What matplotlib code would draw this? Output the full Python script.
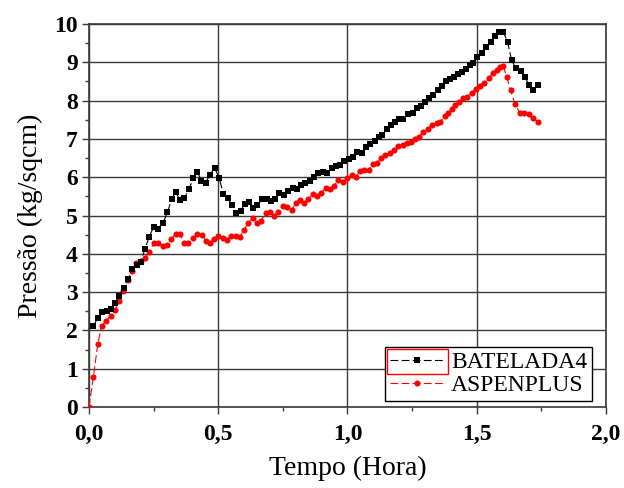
import matplotlib
matplotlib.use("Agg")
import matplotlib.pyplot as plt
from matplotlib.ticker import MultipleLocator, FuncFormatter
from matplotlib.patches import Rectangle

# BATELADA4 (pontos pretos)
tempo_bat = [0.017, 0.034, 0.052, 0.068, 0.084, 0.100, 0.117, 0.135, 0.150, 0.168,
             0.184, 0.200, 0.217, 0.233, 0.251, 0.268, 0.287, 0.303, 0.320, 0.335,
             0.352, 0.369, 0.386, 0.404, 0.419, 0.435, 0.451, 0.468, 0.486, 0.504,
             0.520, 0.537, 0.553, 0.569, 0.587, 0.602, 0.620, 0.636, 0.652, 0.669,
             0.687, 0.703, 0.720, 0.736, 0.754, 0.771, 0.788, 0.803, 0.820, 0.837,
             0.855, 0.870, 0.887, 0.904, 0.920, 0.939, 0.955, 0.971, 0.988, 1.005,
             1.020, 1.038, 1.055, 1.072, 1.087, 1.105, 1.122, 1.135, 1.152, 1.168,
             1.185, 1.200, 1.216, 1.235, 1.252, 1.268, 1.284, 1.300, 1.317, 1.332,
             1.349, 1.367, 1.381, 1.397, 1.413, 1.429, 1.444, 1.457, 1.474, 1.487,
             1.502, 1.519, 1.536, 1.554, 1.572, 1.587, 1.603, 1.620, 1.635, 1.652,
             1.670, 1.687, 1.703, 1.719, 1.736]
pressao_bat = [2.11, 2.33, 2.47, 2.51, 2.55, 2.71, 2.91, 3.12, 3.34, 3.61,
               3.71, 3.79, 4.13, 4.45, 4.71, 4.66, 4.81, 5.08, 5.42, 5.62,
               5.40, 5.45, 5.68, 5.97, 6.14, 5.91, 5.86, 6.06, 6.25, 5.97,
               5.56, 5.45, 5.27, 5.06, 5.13, 5.30, 5.36, 5.19, 5.27, 5.42,
               5.44, 5.37, 5.43, 5.60, 5.54, 5.64, 5.73, 5.69, 5.80, 5.84,
               5.91, 6.01, 6.10, 6.14, 6.10, 6.23, 6.30, 6.32, 6.43, 6.48,
               6.54, 6.67, 6.62, 6.80, 6.88, 6.95, 7.06, 7.09, 7.27, 7.36,
               7.43, 7.52, 7.53, 7.65, 7.68, 7.80, 7.86, 7.97, 8.06, 8.15,
               8.28, 8.38, 8.52, 8.56, 8.61, 8.69, 8.75, 8.83, 8.92, 8.99,
               9.13, 9.23, 9.39, 9.52, 9.69, 9.80, 9.80, 9.52, 9.06, 8.84,
               8.78, 8.61, 8.41, 8.28, 8.41]

# ASPENPLUS (pontos vermelhos)
tempo_asp = [0.000, 0.017, 0.034, 0.049, 0.066, 0.084, 0.100, 0.117, 0.133, 0.150,
             0.165, 0.182, 0.200, 0.217, 0.233, 0.251, 0.268, 0.285, 0.300, 0.317,
             0.335, 0.352, 0.369, 0.384, 0.401, 0.419, 0.436, 0.452, 0.468, 0.484,
             0.500, 0.517, 0.533, 0.549, 0.567, 0.584, 0.600, 0.616, 0.633, 0.649,
             0.665, 0.683, 0.700, 0.716, 0.732, 0.749, 0.767, 0.784, 0.801, 0.816,
             0.832, 0.848, 0.865, 0.881, 0.897, 0.917, 0.932, 0.948, 0.964, 0.981,
             0.999, 1.016, 1.033, 1.048, 1.065, 1.082, 1.098, 1.113, 1.130, 1.146,
             1.164, 1.180, 1.197, 1.214, 1.229, 1.246, 1.261, 1.278, 1.293, 1.310,
             1.328, 1.345, 1.360, 1.377, 1.390, 1.403, 1.416, 1.433, 1.448, 1.463,
             1.480, 1.496, 1.513, 1.528, 1.547, 1.564, 1.577, 1.590, 1.603, 1.616,
             1.631, 1.648, 1.667, 1.684, 1.702, 1.719, 1.736]
pressao_asp = [0.00, 0.79, 1.64, 2.12, 2.25, 2.38, 2.53, 2.77, 3.03, 3.32,
               3.56, 3.75, 3.81, 3.88, 4.06, 4.27, 4.29, 4.20, 4.23, 4.38,
               4.51, 4.51, 4.29, 4.29, 4.40, 4.52, 4.50, 4.34, 4.27, 4.38,
               4.46, 4.40, 4.36, 4.46, 4.46, 4.45, 4.62, 4.81, 4.93, 4.81,
               4.86, 5.06, 5.10, 4.99, 5.10, 5.25, 5.23, 5.14, 5.33, 5.40,
               5.32, 5.42, 5.56, 5.51, 5.58, 5.73, 5.68, 5.77, 5.93, 5.88,
               5.97, 6.06, 6.00, 6.16, 6.19, 6.19, 6.34, 6.36, 6.49, 6.58,
               6.62, 6.71, 6.81, 6.84, 6.90, 6.93, 6.99, 7.06, 7.19, 7.25,
               7.36, 7.41, 7.45, 7.60, 7.68, 7.77, 7.89, 7.97, 8.06, 8.10,
               8.21, 8.29, 8.38, 8.47, 8.58, 8.73, 8.80, 8.87, 8.90, 8.62,
               8.28, 7.91, 7.68, 7.67, 7.65, 7.54, 7.45]

serif = "Liberation Serif"

fig = plt.figure(figsize=(6.24, 4.88), dpi=100)
ax = fig.add_axes([0.1426, 0.166, 0.8284, 0.7848])

ax.plot(tempo_bat, pressao_bat, color="black", lw=0.8, linestyle=(0, (7, 3)),
        marker="s", markersize=4.0, markeredgewidth=0, label="BATELADA4", zorder=4)
ax.plot(tempo_asp, pressao_asp, color="red", lw=0.8, linestyle=(0, (7, 3)),
        marker="o", markersize=4.4, markeredgewidth=0, label="ASPENPLUS", zorder=3)

ax.set_xlim(0, 2.0)
ax.set_ylim(0, 10)
ax.xaxis.set_major_locator(MultipleLocator(0.5))
ax.xaxis.set_minor_locator(MultipleLocator(0.25))
ax.yaxis.set_major_locator(MultipleLocator(1))
ax.yaxis.set_minor_locator(MultipleLocator(0.5))
ax.xaxis.set_major_formatter(FuncFormatter(lambda v, p: f"{v:.1f}".replace(".", ",")))

ax.grid(True, which="major", color="#3a3a3a", lw=1.0)
ax.set_axisbelow(True)
for s in ax.spines.values():
    s.set_color("#3a3a3a")
    s.set_linewidth(1.2)

ax.tick_params(which="major", direction="out", length=5, width=1.0, color="#3a3a3a")
ax.tick_params(which="minor", direction="out", length=3, width=1.0, color="#3a3a3a")
ax.tick_params(axis="x", which="major", pad=7)
ax.tick_params(axis="y", which="major", pad=3)
for lab in ax.get_xticklabels() + ax.get_yticklabels():
    lab.set_fontfamily(serif)
    lab.set_fontweight("bold")
    lab.set_fontsize(17)

ax.set_xlabel("Tempo (Hora)", fontfamily=serif, fontsize=20, labelpad=8)
ax.set_ylabel("Pressão (kg/sqcm)", fontfamily=serif, fontsize=20, labelpad=8)

leg = ax.legend(loc="lower right", bbox_to_anchor=(0.973, 0.016), borderaxespad=0,
                prop={"family": serif, "size": 17}, fancybox=False, framealpha=1,
                edgecolor="black", numpoints=1, handlelength=2.3, handletextpad=0.3,
                borderpad=0.2, labelspacing=0.05)
leg.get_frame().set_linewidth(1.0)

# moldura vermelha em volta do primeiro simbolo da legenda (como no original)
fig.canvas.draw()
r = fig.canvas.get_renderer()
lb = leg.get_window_extent(r)
tb = leg.get_texts()[0].get_window_extent(r)
inv = fig.transFigure.inverted()
x0, y0 = inv.transform((lb.x0 + 2, tb.y0 - 1))
x1, y1 = inv.transform((tb.x0 - 3, lb.y1 - 2))
fig.patches.append(Rectangle((x0, y0), x1 - x0, y1 - y0, transform=fig.transFigure,
                             fill=False, edgecolor="red", lw=1.0, zorder=10))

fig.savefig("out.png", dpi=100)
